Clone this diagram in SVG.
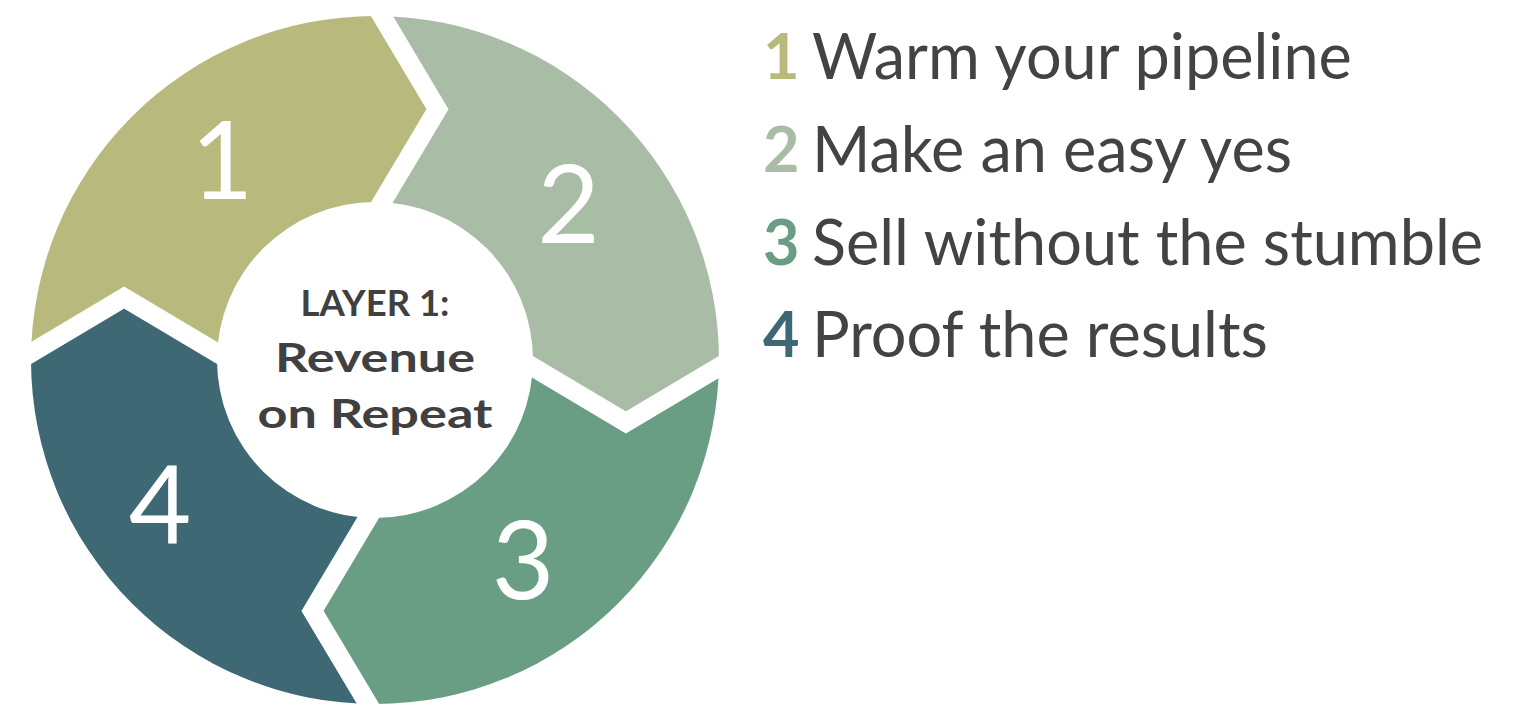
<svg xmlns="http://www.w3.org/2000/svg" width="1533" height="725" viewBox="0 0 1533 725">
<style>
.num{font-family:Lato,"Noto Sans",sans-serif;font-weight:400;font-size:108px;fill:#fff;text-anchor:middle}
.ctr{font-family:Lato,"Noto Sans",sans-serif;font-weight:700;fill:#404040;text-anchor:middle}
.leg{font-family:Lato,"Noto Sans",sans-serif;font-size:63px;fill:#434343}
.legn{font-weight:700}
.gap{fill:none;stroke:#fff;stroke-width:19;stroke-linejoin:miter;stroke-miterlimit:10}
</style>
<defs>
<clipPath id="ring"><circle cx="375" cy="360" r="344"/></clipPath>
</defs>
<g clip-path="url(#ring)">
<g id="seg1"><path fill="#B8B97D" d="M375,360 L217.2,353 L124.1,297.5 L31.1,353 L-50,353 L-50,-50 L382,-50 L382,16.1 L437.5,109.15 L382,202.2 Z"/></g>
<g id="seg2"><path fill="#A9BCA5" d="M375,360 L382,202.2 L437.5,109.15 L382,16.1 L382,-50 L800,-50 L800,367 L718.9,367 L625.9,422.5 L532.8,367 Z"/></g>
<g id="seg3"><path fill="#699E85" d="M375,360 L532.8,367 L625.9,422.5 L718.9,367 L800,367 L800,800 L368,800 L368,703.9 L312.5,610.9 L368,517.8 Z"/></g>
<g id="seg4"><path fill="#3D6874" d="M375,360 L368,517.8 L312.5,610.9 L368,703.9 L368,800 L-50,800 L-50,353 L31.1,353 L124.1,297.5 L217.2,353 Z"/></g>
</g>
<g id="connectors">
<polyline class="gap" points="366.6,-9.7 437.5,109.15 366.6,228"/>
<polyline class="gap" points="744.7,351.6 625.9,422.5 507,351.6"/>
<polyline class="gap" points="383.4,729.7 312.5,610.9 383.4,492.1"/>
<polyline class="gap" points="5.3,368.4 124.1,297.5 243,368.4"/>
</g>
<g id="center">
<circle cx="375" cy="360" r="158" fill="#fff"/>
<text class="ctr" x="375" y="316" font-size="36" textLength="149" lengthAdjust="spacingAndGlyphs">LAYER 1:</text>
<text class="ctr" x="375" y="372" font-size="40" textLength="200" lengthAdjust="spacingAndGlyphs">Revenue</text>
<text class="ctr" x="375" y="428" font-size="40" textLength="235" lengthAdjust="spacingAndGlyphs">on Repeat</text>
</g>
<g id="labels">
<text class="num" x="222" y="199">1</text>
<text class="num" x="568.5" y="243">2</text>
<text class="num" x="523" y="599">3</text>
<text class="num" x="160" y="544">4</text>
</g>
<g id="legend">
<text class="leg" x="763" y="79"><tspan class="legn" fill="#B8B97D">1</tspan><tspan x="812">Warm your pipeline</tspan></text>
<text class="leg" x="763" y="172"><tspan class="legn" fill="#A9BCA5">2</tspan><tspan x="812">Make an easy yes</tspan></text>
<text class="leg" x="763" y="265"><tspan class="legn" fill="#699E85">3</tspan><tspan x="812">Sell without the stumble</tspan></text>
<text class="leg" x="763" y="357"><tspan class="legn" fill="#3D6874">4</tspan><tspan x="812">Proof the results</tspan></text>
</g>
</svg>
